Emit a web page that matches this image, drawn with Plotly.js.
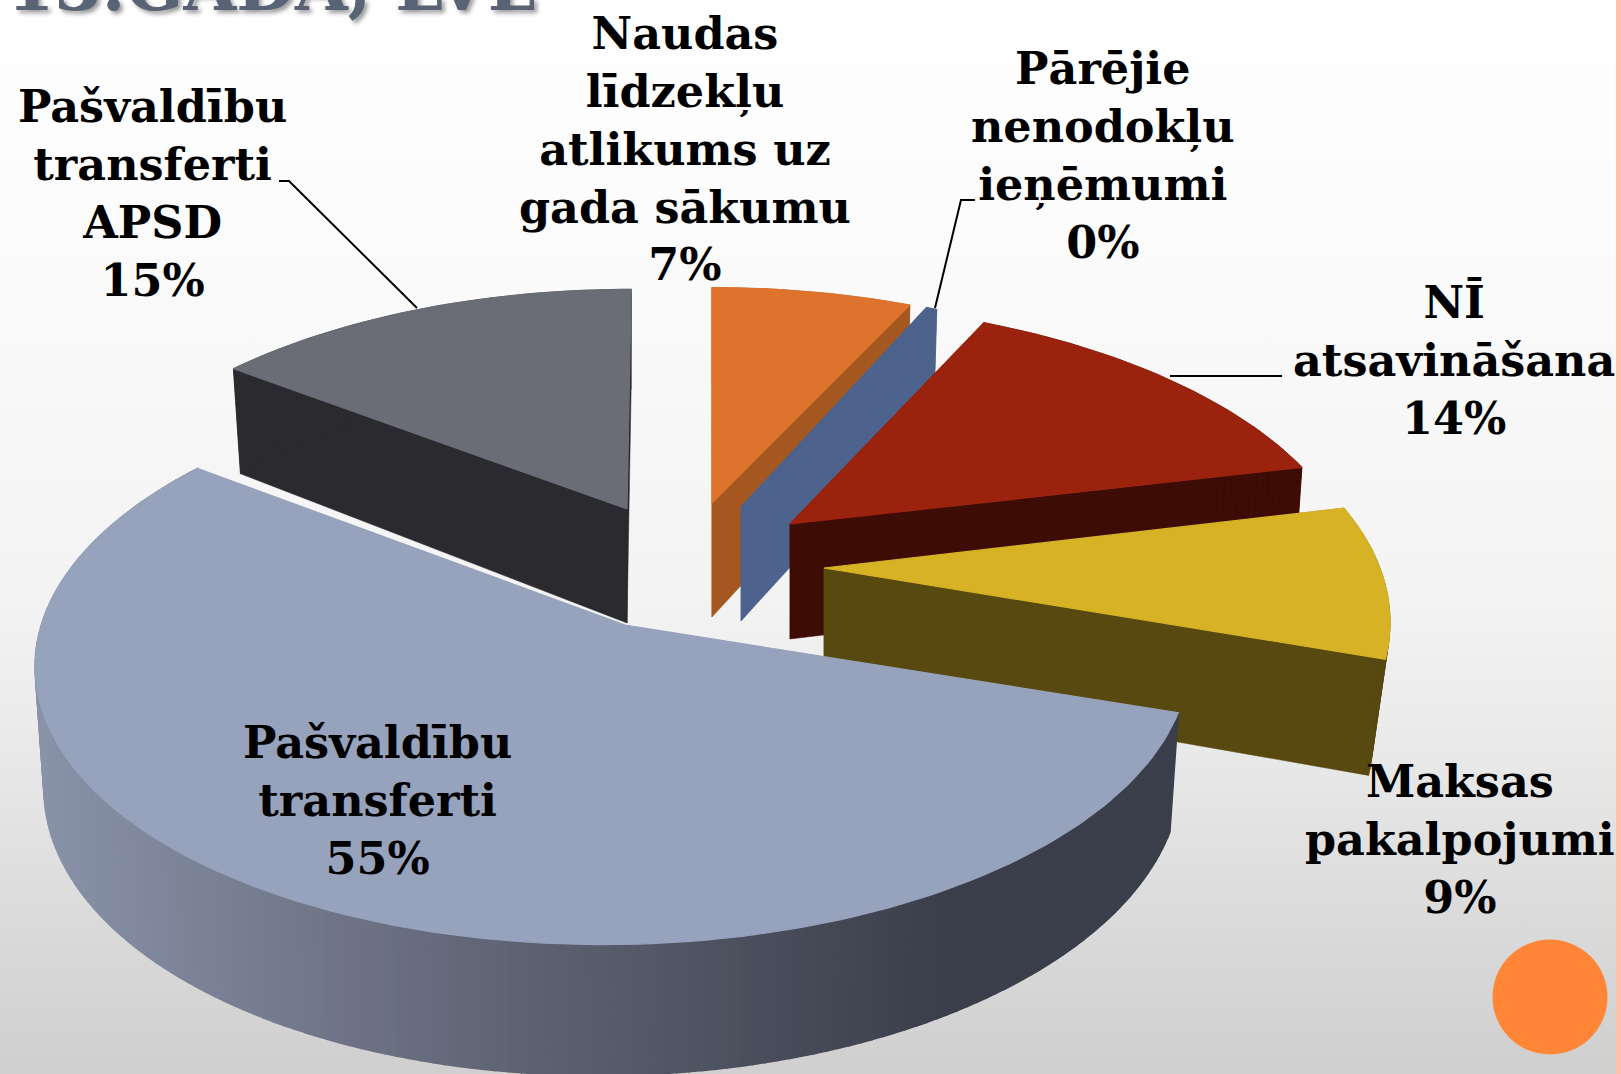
<!DOCTYPE html>
<html><head><meta charset="utf-8">
<script src="https://cdn.plot.ly/plotly-3.0.1.min.js"></script>
<style>
html,body{margin:0;padding:0;width:1621px;height:1074px;overflow:hidden;
background:linear-gradient(to right,transparent 1616px,#FEC1AC 1616px),linear-gradient(to bottom,#ffffff 0,#fafafa 300px,#f3f3f3 600px,#e9e9e9 750px,#dcdcdc 900px,#cfcfcf 1074px);}
#chart{width:1621px;height:1074px;}
.annotation[data-index="0"]{filter:drop-shadow(3px 3px 2px #9a9a9a);}
</style></head><body><div id="chart"></div>
<script>
// DATA
const categories = ["Naudas<br>līdzekļu<br>atlikums uz<br>gada sākumu","Pārējie<br>nenodokļu<br>ieņēmumi","NĪ<br>atsavināšana","Maksas<br>pakalpojumi","Pašvaldību<br>transferti","Pašvaldību<br>transferti<br>APSD"];
const values = [7, 0.4, 14, 8.6, 55.2, 14.8];
const topColors = ["#DE732D","#4D628C","#9B230E","#D6B224","#97A2BC","#6A6D76"];
const wallColors = ["#A45820","#4D628C","#3D0C05","#584910",null,"#2A2A2F"];
const titleText = "13.GADĀ, LVL";

// Projection of each exploded wedge (pixel axes)
const geom = [
 {ax:712,ay:503,R:544,Ry:256,p:.188,q:0,k:0,dz:114,b:.985},
 {ax:741,ay:507,R:510,Ry:258,p:.188,q:0,k:0,dz:114,b:.985},
 {ax:790,ay:524,R:553,Ry:263,p:.188,q:0,k:-24,dz:115,b:.985},
 {ax:824,ay:568,R:556,Ry:278,p:.188,q:0,k:0,dz:112,b:.97},
 {ax:625,ay:625,R:572,Ry:278,p:.13,q:.02,k:8,dz:118,b:.985},
 {ax:627,ay:509,R:550,Ry:261,p:.188,q:0,k:5,dz:114,b:.982}
];
const labelPos = [[685,148],[1103,155],[1454,360],[1460,839],[377,800],[152,193]];
const leaders = [[[279,289,417],[181,181,308]],[[975,961,935],[200,200,308]],[[1282,1170],[376,376]]];
const drawOrder = [5,0,1,2,3,4];

const total = values.reduce((a,b)=>a+b,0);
const traces = [];
let cum = 0;
const spans = values.map(v=>{const s=[cum/total*2*Math.PI,(cum+v)/total*2*Math.PI];cum+=v;return s;});

function rim(g,th){
  const X=Math.sin(th),Y=Math.cos(th),w=1+g.p*Y+g.q*X;
  const dx=(g.R*X+g.k*Y)/w,dy=-g.Ry*Y/w;
  return {top:[g.ax+dx,g.ay+dy],bot:[g.ax+dx*g.b,g.ay+dy*g.b+g.dz/w]};
}
function poly(xs,ys,c,name,lw){
  traces.push({type:'scatter',mode:'lines',x:xs.concat(xs[0]),y:ys.concat(ys[0]),fill:'toself',fillcolor:c,
    line:{color:c,width:lw},hoverinfo:name?'text':'skip',text:name||'',showlegend:false});
}
function lerpColor(f){
  const a=[0x89,0x93,0xA9],m=[0x60,0x65,0x75],b=[0x3B,0x3F,0x4B];
  let r=f<.41?a.map((v,i)=>v+(m[i]-v)*f/.41):(f<.8?m.map((v,i)=>v+(b[i]-v)*(f-.41)/.39):b);
  return 'rgb('+r.map(Math.round).join(',')+')';
}
drawOrder.forEach(i=>{
  const g=geom[i],[s,e]=spans[i],n=Math.max(4,Math.round((e-s)/0.02));
  const pts=[];for(let j=0;j<=n;j++)pts.push(rim(g,s+(e-s)*j/n));
  const apexBot=[g.ax,g.ay+g.dz];
  const wc=wallColors[i];
  if(wc){
    const side=p=>poly([g.ax,p.top[0],p.bot[0],apexBot[0]],[g.ay,p.top[1],p.bot[1],apexBot[1]],wc,null,.5);
    side(pts[0]);side(pts[n]);
  }
  for(let j=0;j<n;j++){
    const a=pts[j],b=pts[j+1];
    const c=wc||lerpColor(Math.min(1,Math.max(0,(a.bot[0]-40)/1130)));
    poly([a.top[0],b.top[0],b.bot[0],a.bot[0]],[a.top[1],b.top[1],b.bot[1],a.bot[1]],c,null,wc?.5:1.5);
  }
  poly([g.ax].concat(pts.map(p=>p.top[0])),[g.ay].concat(pts.map(p=>p.top[1])),topColors[i],
    categories[i].replace(/<br>/g,' ')+': '+Math.round(values[i])+'%',1.2);
});
leaders.forEach(l=>traces.push({type:'scatter',mode:'lines',x:l[0],y:l[1],line:{color:'#000',width:2},hoverinfo:'skip',showlegend:false}));

const font={family:'"DejaVu Serif",serif',size:44.5,color:'#000'};
const annotations=[{x:5,y:10,xref:'x',yref:'y',xanchor:'left',yanchor:'bottom',showarrow:false,yshift:-18,
  text:'<b>'+titleText+'</b>',font:{family:'"DejaVu Serif",serif',size:68,color:'#596376'}}];
categories.forEach((c,i)=>annotations.push({x:labelPos[i][0],y:labelPos[i][1],xref:'x',yref:'y',xanchor:'center',yanchor:'middle',
  showarrow:false,align:'center',font,text:'<b>'+c+'<br>'+Math.round(values[i])+'%</b>'}));

Plotly.newPlot('chart',traces,{
  width:1621,height:1074,margin:{l:0,r:0,t:0,b:0},paper_bgcolor:'rgba(0,0,0,0)',plot_bgcolor:'rgba(0,0,0,0)',
  showlegend:false,
  xaxis:{range:[0,1621],visible:false,fixedrange:true},
  yaxis:{range:[1074,0],visible:false,fixedrange:true},
  shapes:[{type:'circle',xref:'x',yref:'y',x0:1492.5,x1:1607.5,y0:939.5,y1:1054.5,fillcolor:'#FF8637',line:{width:0}}],
  annotations
},{displayModeBar:false});
</script></body></html>
